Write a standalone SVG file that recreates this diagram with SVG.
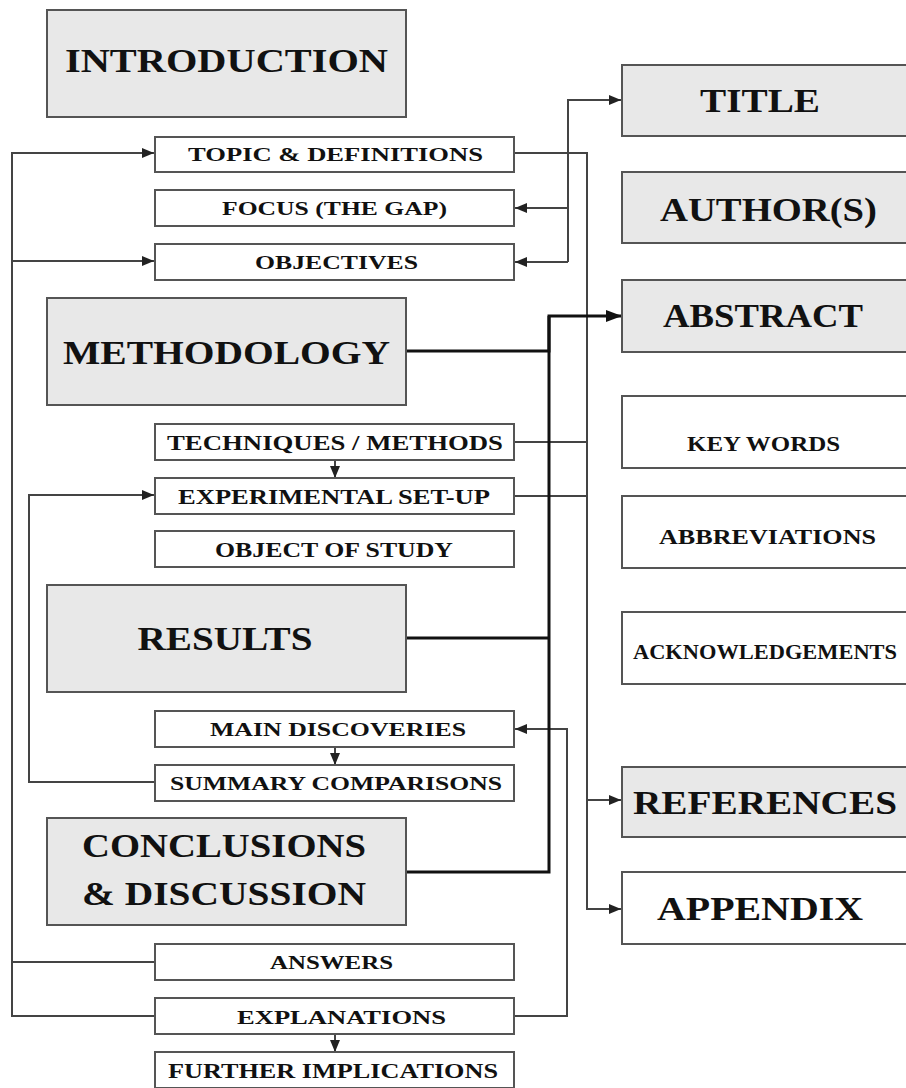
<svg xmlns="http://www.w3.org/2000/svg" width="906" height="1088" viewBox="0 0 906 1088">
<style>
.g{fill:#e8e8e8;stroke:#555;stroke-width:2}
.w{fill:#fff;stroke:#555;stroke-width:2}
text{font-family:"Liberation Serif","Times New Roman",serif;font-weight:bold;fill:#111;text-anchor:middle}
.big{font-size:34px}
.mid{font-size:22px}
.sm{font-size:19px}
.md{font-size:22px}
.c{fill:none;stroke:#444;stroke-width:2}
.t{fill:none;stroke:#111;stroke-width:3}
</style>
<defs>
<marker id="a" markerUnits="userSpaceOnUse" markerWidth="12" markerHeight="10" refX="12" refY="5" orient="auto"><path d="M0,0 L12,5 L0,10 z" fill="#222"/></marker>
<marker id="b" markerUnits="userSpaceOnUse" markerWidth="16" markerHeight="12" refX="16" refY="6" orient="auto"><path d="M0,0 L16,6 L0,12 z" fill="#111"/></marker>
</defs>
<rect width="906" height="1088" fill="#fff"/>
<g id="connectors">
<path class="c" d="M155,1016 H12 V153 H154" marker-end="url(#a)"/>
<path class="c" d="M12,261 H154" marker-end="url(#a)"/>
<path class="c" d="M155,962 H12"/>
<path class="c" d="M155,782 H29 V495 H154" marker-end="url(#a)"/>
<path class="c" d="M568,262 V100 H621" marker-end="url(#a)"/>
<path class="c" d="M568,208 H515" marker-end="url(#a)"/>
<path class="c" d="M568,262 H515" marker-end="url(#a)"/>
<path class="c" d="M514,153 H587 V909 H621" marker-end="url(#a)"/>
<path class="c" d="M587,800 H621" marker-end="url(#a)"/>
<path class="c" d="M514,442 H587"/>
<path class="c" d="M514,496 H587"/>
<path class="c" d="M514,1016 H567 V729 H515" marker-end="url(#a)"/>
<path class="c" d="M335,460 V478" marker-end="url(#a)"/>
<path class="c" d="M335,747 V765" marker-end="url(#a)"/>
<path class="c" d="M335,1034 V1052" marker-end="url(#a)"/>
<path class="t" d="M405,351 H549 V316 H622" marker-end="url(#b)"/>
<path class="t" d="M405,638 H549"/>
<path class="t" d="M405,872 H549 V316"/>
</g>
<g id="introduction"><rect class="g" x="47" y="10" width="359" height="107"/><text class="big" x="226.5" y="72" textLength="323" lengthAdjust="spacingAndGlyphs">INTRODUCTION</text></g>
<g id="topic"><rect class="w" x="155" y="137" width="359" height="35"/><text class="sm" x="335.5" y="161" textLength="295" lengthAdjust="spacingAndGlyphs">TOPIC &amp; DEFINITIONS</text></g>
<g id="focus"><rect class="w" x="155" y="190" width="359" height="36"/><text class="sm" x="334.5" y="215" textLength="225" lengthAdjust="spacingAndGlyphs">FOCUS (THE GAP)</text></g>
<g id="objectives"><rect class="w" x="155" y="244" width="359" height="36"/><text class="sm" x="336.5" y="269" textLength="163" lengthAdjust="spacingAndGlyphs">OBJECTIVES</text></g>
<g id="methodology"><rect class="g" x="47" y="298" width="359" height="107"/><text class="big" x="226.5" y="364" textLength="327" lengthAdjust="spacingAndGlyphs">METHODOLOGY</text></g>
<g id="techniques"><rect class="w" x="155" y="424" width="359" height="36"/><text class="md" x="335" y="450" textLength="336" lengthAdjust="spacingAndGlyphs">TECHNIQUES / METHODS</text></g>
<g id="experimental"><rect class="w" x="155" y="478" width="359" height="36"/><text class="md" x="334" y="504" textLength="312" lengthAdjust="spacingAndGlyphs">EXPERIMENTAL SET-UP</text></g>
<g id="object"><rect class="w" x="155" y="531" width="359" height="36"/><text class="md" x="334" y="557" textLength="238" lengthAdjust="spacingAndGlyphs">OBJECT OF STUDY</text></g>
<g id="results"><rect class="g" x="47" y="585" width="359" height="107"/><text class="big" x="225" y="650" textLength="175" lengthAdjust="spacingAndGlyphs">RESULTS</text></g>
<g id="main"><rect class="w" x="155" y="711" width="359" height="36"/><text class="sm" x="338" y="736" textLength="256" lengthAdjust="spacingAndGlyphs">MAIN DISCOVERIES</text></g>
<g id="summary"><rect class="w" x="155" y="765" width="359" height="36"/><text class="sm" x="336" y="790" textLength="332" lengthAdjust="spacingAndGlyphs">SUMMARY COMPARISONS</text></g>
<g id="conclusions"><rect class="g" x="47" y="818" width="359" height="107"/><text class="big" x="224" y="857" textLength="284" lengthAdjust="spacingAndGlyphs">CONCLUSIONS</text><text class="big" x="224" y="905" textLength="284" lengthAdjust="spacingAndGlyphs">&amp; DISCUSSION</text></g>
<g id="answers"><rect class="w" x="155" y="944" width="359" height="36"/><text class="sm" x="331.5" y="969" textLength="123" lengthAdjust="spacingAndGlyphs">ANSWERS</text></g>
<g id="explanations"><rect class="w" x="155" y="998" width="359" height="36"/><text class="sm" x="341.5" y="1024" textLength="209" lengthAdjust="spacingAndGlyphs">EXPLANATIONS</text></g>
<g id="further"><rect class="w" x="155" y="1052" width="359" height="36"/><text class="md" x="333" y="1078" textLength="330" lengthAdjust="spacingAndGlyphs">FURTHER IMPLICATIONS</text></g>
<g id="title"><rect class="g" x="622" y="65" width="290" height="71"/><text class="big" x="760" y="112" textLength="120" lengthAdjust="spacingAndGlyphs">TITLE</text></g>
<g id="authors"><rect class="g" x="622" y="172" width="290" height="71"/><text class="big" x="768.5" y="221" textLength="217" lengthAdjust="spacingAndGlyphs">AUTHOR(S)</text></g>
<g id="abstract"><rect class="g" x="622" y="280" width="290" height="72"/><text class="big" x="763" y="327" textLength="200" lengthAdjust="spacingAndGlyphs">ABSTRACT</text></g>
<g id="keywords"><rect class="w" x="622" y="396" width="290" height="72"/><text class="mid" x="763.5" y="451" textLength="153" lengthAdjust="spacingAndGlyphs">KEY WORDS</text></g>
<g id="abbreviations"><rect class="w" x="622" y="496" width="290" height="72"/><text class="mid" x="767.5" y="544" textLength="217" lengthAdjust="spacingAndGlyphs">ABBREVIATIONS</text></g>
<g id="acknowledgements"><rect class="w" x="622" y="612" width="290" height="72"/><text class="mid" x="765" y="659" textLength="264" lengthAdjust="spacingAndGlyphs">ACKNOWLEDGEMENTS</text></g>
<g id="references"><rect class="g" x="622" y="767" width="290" height="70"/><text class="big" x="765" y="814" textLength="264" lengthAdjust="spacingAndGlyphs">REFERENCES</text></g>
<g id="appendix"><rect class="w" x="622" y="872" width="290" height="72"/><text class="big" x="760" y="920" textLength="206" lengthAdjust="spacingAndGlyphs">APPENDIX</text></g>
</svg>
